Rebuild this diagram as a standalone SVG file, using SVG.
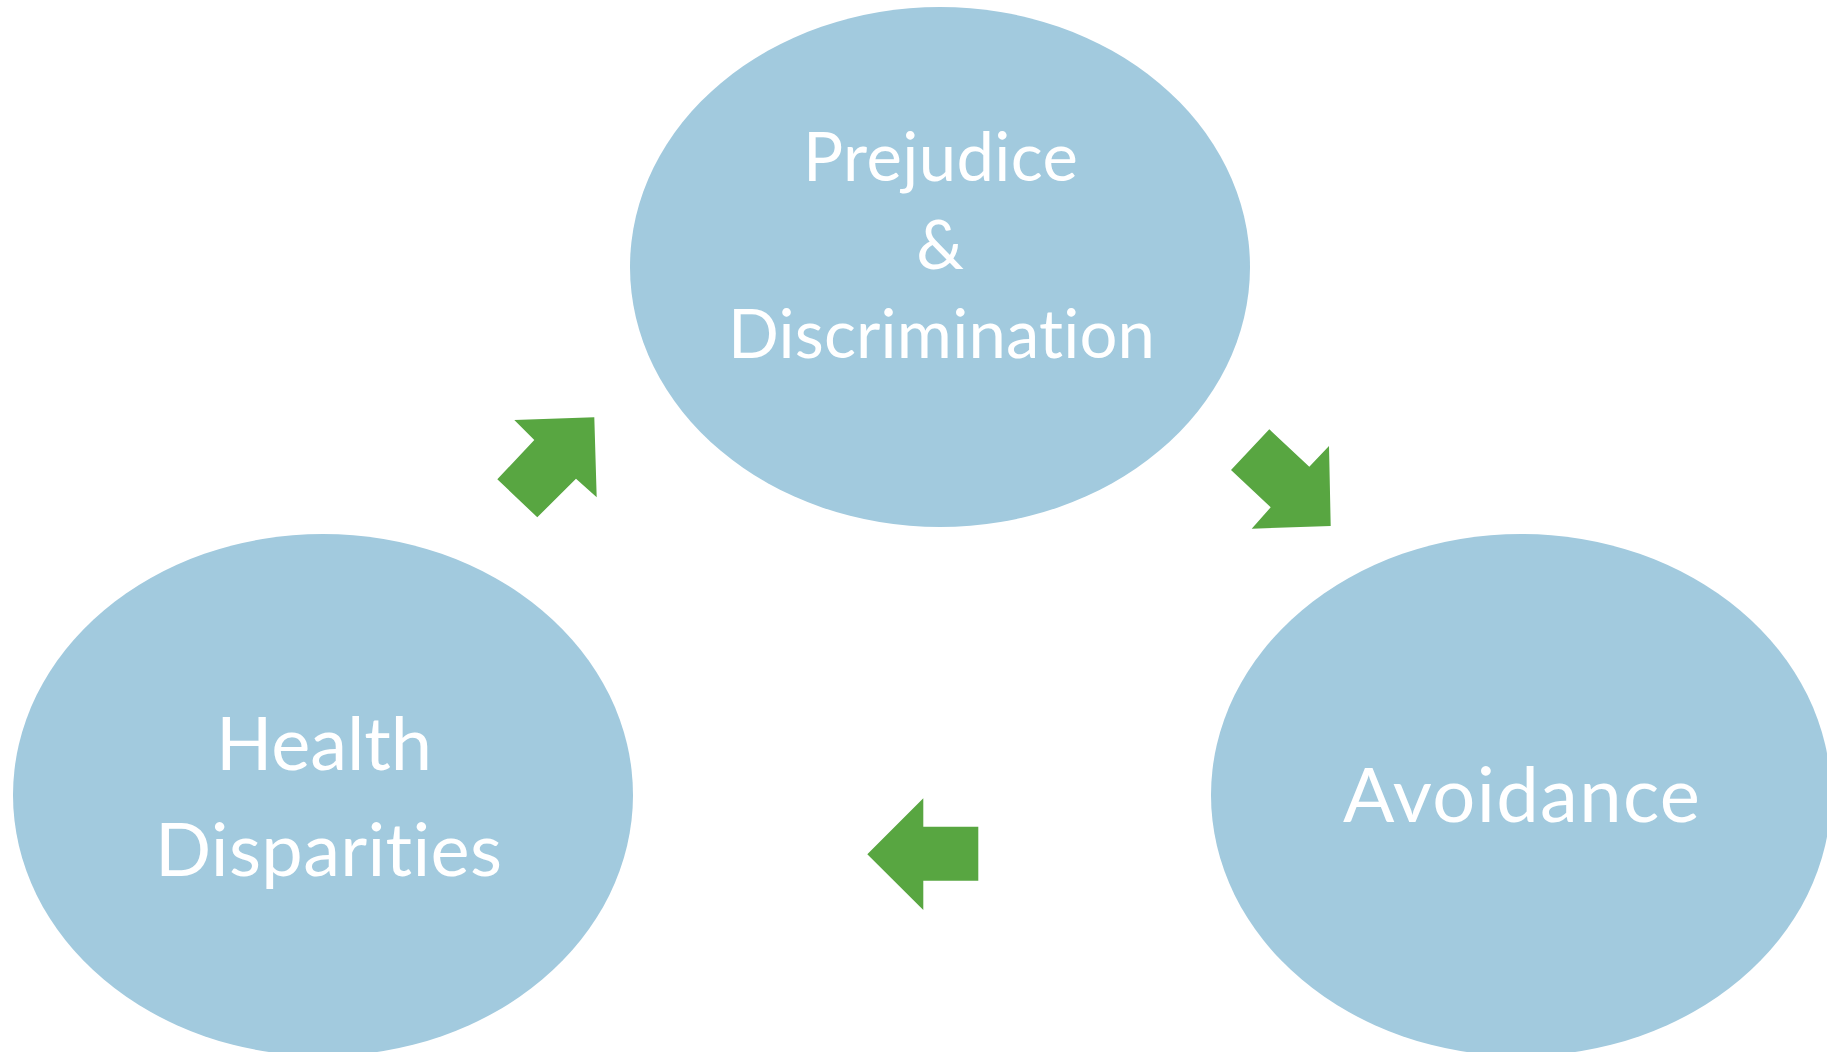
<svg xmlns="http://www.w3.org/2000/svg" width="1827" height="1052" viewBox="0 0 1827 1052">
  <style>
    .bubble { fill: #A2CADE; }
    .arrow { fill: #58A641; }
    .label { fill: #FFFFFF; font-family: Lato, "Open Sans", "Liberation Sans", sans-serif; text-anchor: middle; font-variant-ligatures: none; font-feature-settings: "liga" 0, "clig" 0; }
  </style>
  <rect width="1827" height="1052" fill="#FFFFFF"/>

  <g id="node-prejudice">
    <ellipse class="bubble" cx="940" cy="267" rx="310" ry="260"/>
    <text class="label" x="940.5" y="181" font-size="67" textLength="275" lengthAdjust="spacing">Prejudice</text>
    <text class="label" x="940" y="269" font-size="67">&amp;</text>
    <text class="label" x="941.5" y="358" font-size="67" textLength="427" lengthAdjust="spacing">Discrimination</text>
  </g>

  <g id="node-avoidance">
    <ellipse class="bubble" cx="1521" cy="795" rx="310" ry="261"/>
    <text class="label" x="1521.5" y="822" font-size="76" textLength="357" lengthAdjust="spacing">Avoidance</text>
  </g>

  <g id="node-health">
    <ellipse class="bubble" cx="323" cy="795" rx="310" ry="261"/>
    <text class="label" x="324" y="770" font-size="74" textLength="216" lengthAdjust="spacing">Health</text>
    <text class="label" x="328.5" y="876" font-size="74" textLength="347" lengthAdjust="spacing">Disparities</text>
  </g>

  <g id="connectors">
    <polygon class="arrow" points="514.3,420 594.3,417.3 596.7,497.3 576,478.7 537.3,517.3 497.3,479.3 534.3,440"/>
    <polygon class="arrow" points="1269.3,429.3 1309.3,466.7 1329,446 1330.7,526 1251.7,528.7 1270.7,507.3 1231,470"/>
    <polygon class="arrow" points="867.3,854.3 923.3,798.3 923.3,826.7 978.3,826.7 978.3,880.7 923.3,880.7 923.3,910"/>
  </g>
</svg>
